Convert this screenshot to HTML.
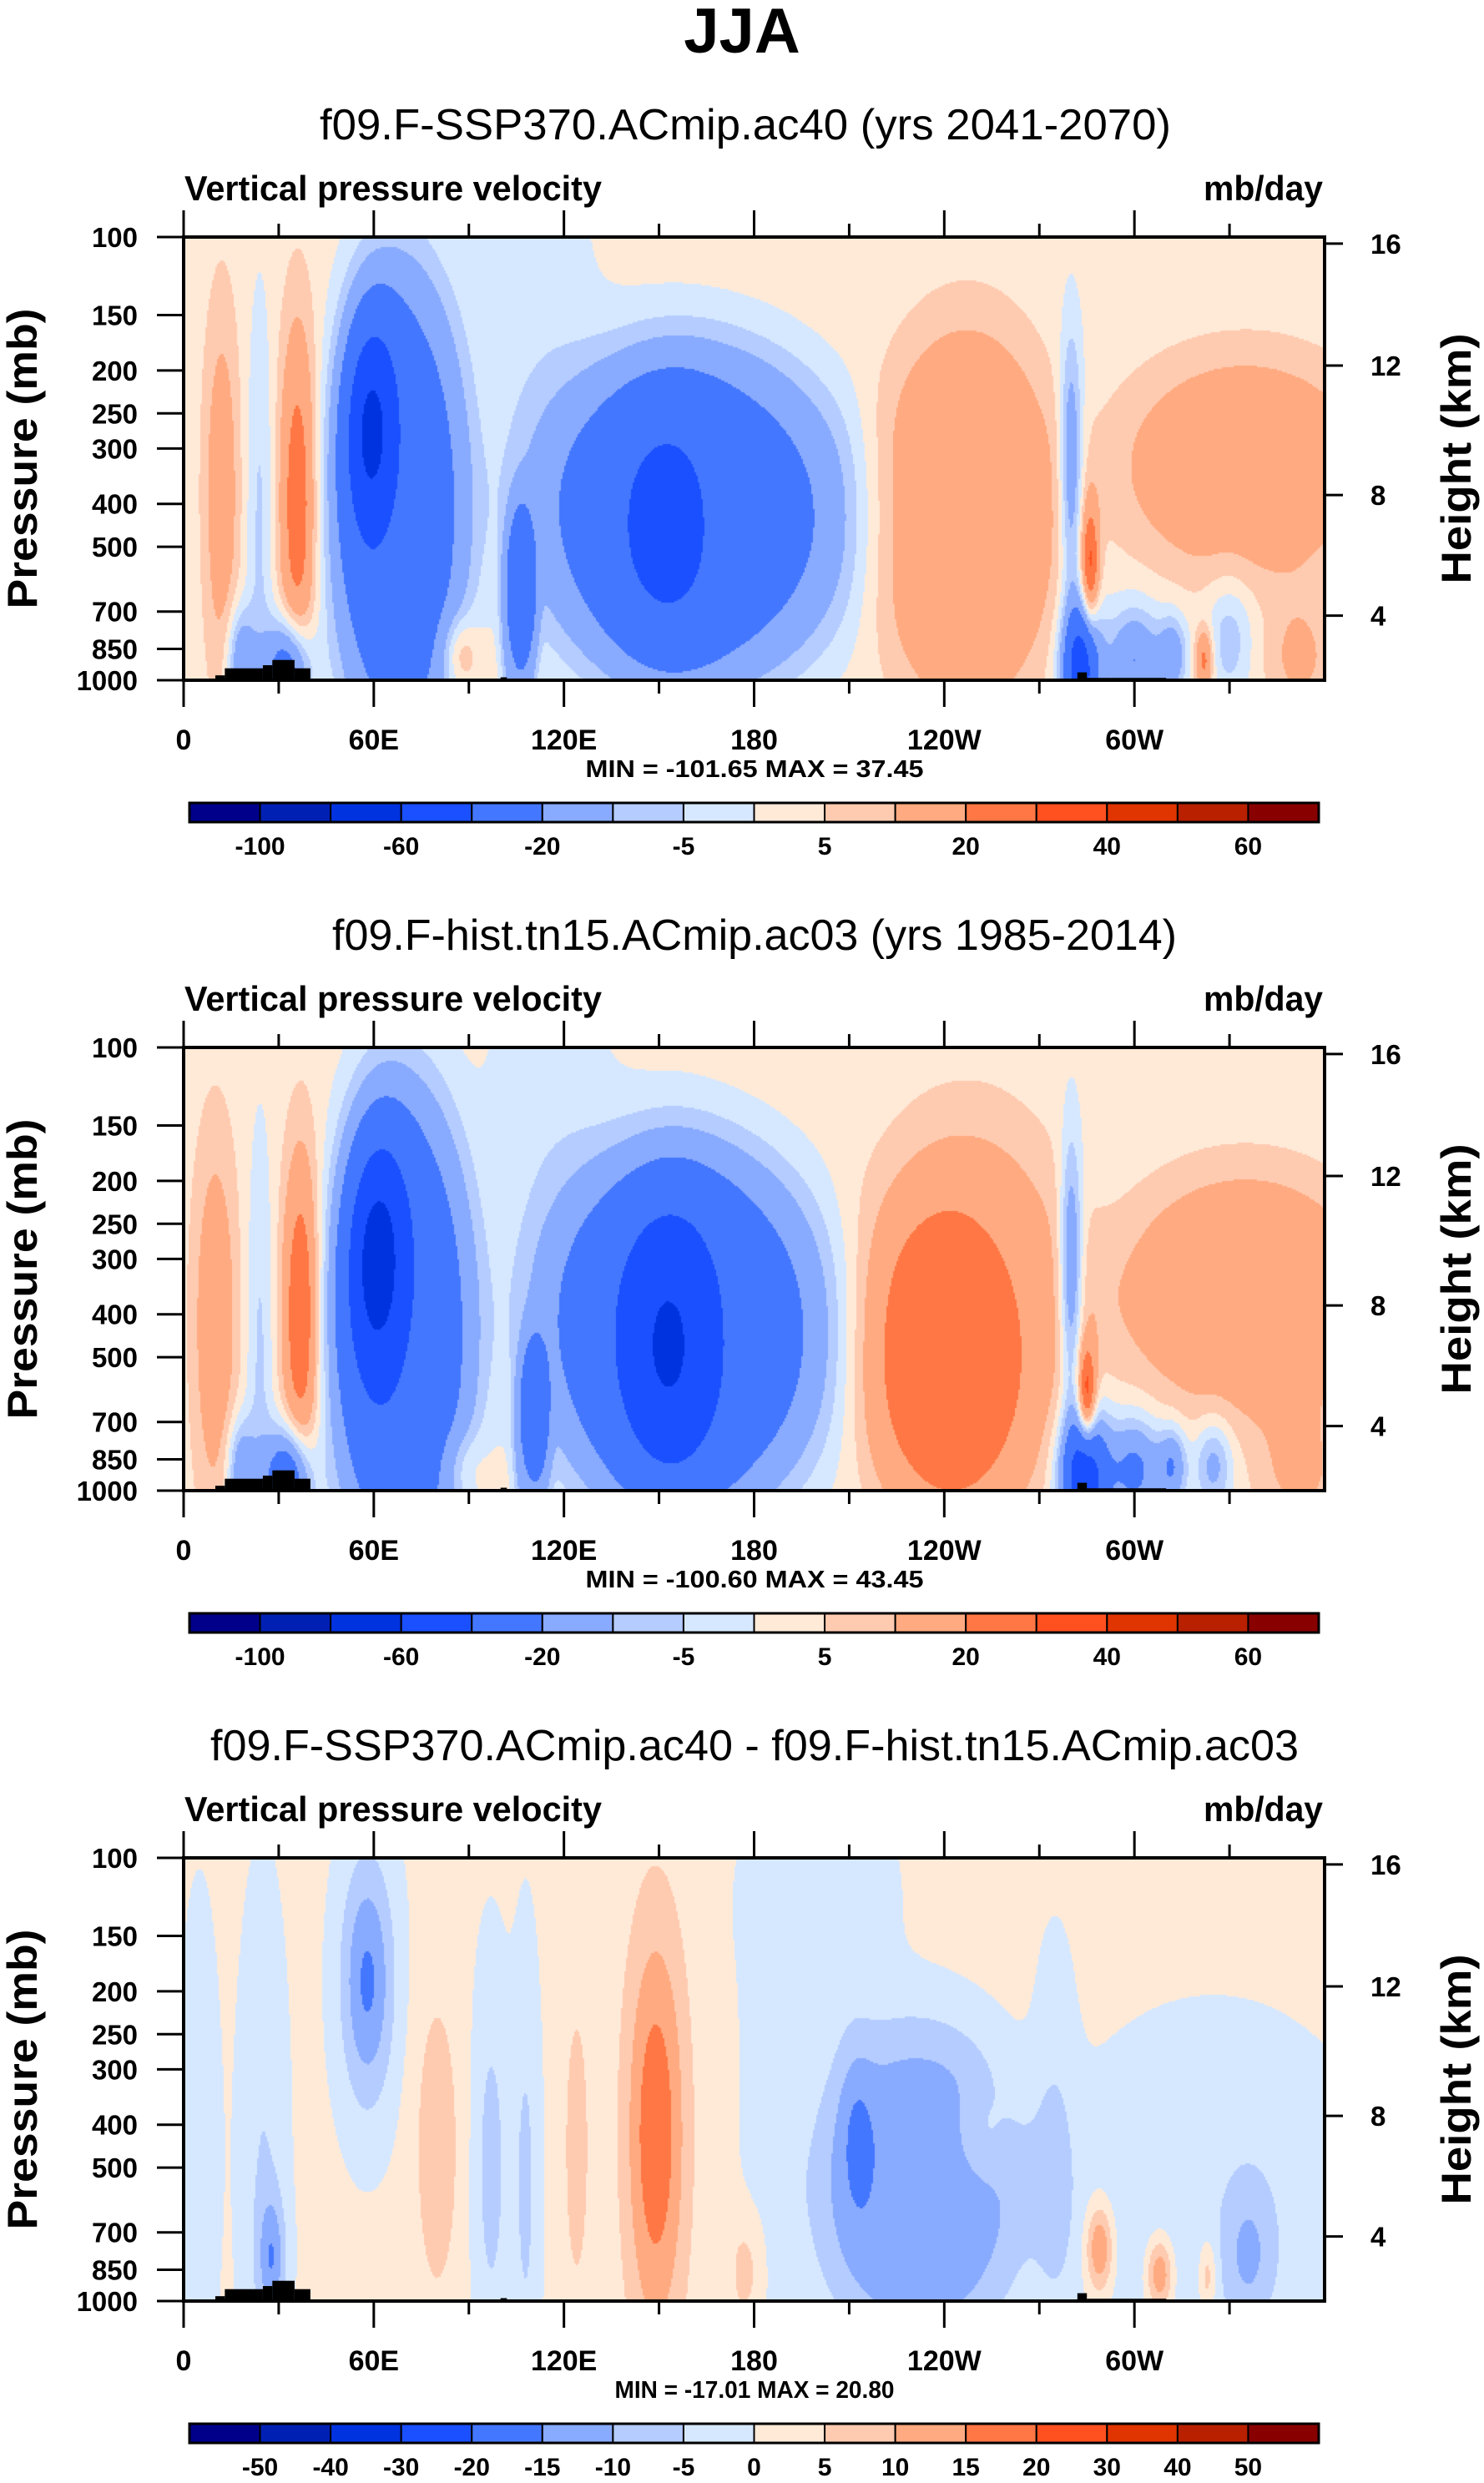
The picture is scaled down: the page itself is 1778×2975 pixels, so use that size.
<!DOCTYPE html>
<html><head><meta charset="utf-8">
<style>
html,body{margin:0;padding:0;background:#fff;}
#wrap{position:relative;width:1778px;height:2975px;overflow:hidden;background:#fff;}
canvas{position:absolute;}
svg{position:absolute;left:0;top:0;}
text{font-family:"Liberation Sans",Arial,sans-serif;fill:#000;}
</style></head>
<body>
<div id="wrap">
<canvas id="c0"></canvas>
<canvas id="c1"></canvas>
<canvas id="c2"></canvas>
<svg id="svg" width="1778" height="2975"></svg>
</div>
<script>
// ---- data ----
const lonTicks = [0,60,120,180,240,300];
const lonTickLabels = ["0","60E","120E","180","120W","60W"];
const pressureTicks = [100,150,200,250,300,400,500,700,850,1000];
const heightTicks = [16,12,8,4];
const heightTickPressure = [103.5,195,382,715];
const levels1 = [-100,-80,-60,-40,-20,-10,-5,0,5,10,20,30,40,50,60];
const levels1Labels = ["-100","-60","-20","-5","5","20","40","60"];
const levels3 = [-50,-40,-30,-20,-15,-10,-5,0,5,10,15,20,30,40,50];
const palette = ["#00008a","#0020b4","#0033e0","#1a50ff","#4477ff","#88aaff","#b4ccff","#d6e8ff","#ffead8","#ffcbb0","#ffaa80","#ff7744","#ff5020","#e03500","#b82000","#880000"];
const titles = ["f09.F-SSP370.ACmip.ac40 (yrs 2041-2070)","f09.F-hist.tn15.ACmip.ac03 (yrs 1985-2014)","f09.F-SSP370.ACmip.ac40 - f09.F-hist.tn15.ACmip.ac03"];
const minmax = ["MIN = -101.65  MAX =  37.45","MIN = -100.60  MAX =  43.45","MIN = -17.01  MAX = 20.80"];
// feature blobs: [lon, pressure(mb), lonWidth(deg), logPWidth(decades), amplitude(mb/day), shape(1=gauss,2=flat)]
const baseFuture = 2;
const blobsFuture = [
 [68,420,19,0.5,-30,2],[59,270,6,0.18,-40,1],
 [160,430,44,0.34,-30,2],[152,450,12,0.2,-20,1],
 [106,700,5,0.22,-22,2],[110,150,15,0.3,-5,1],
 [247,430,27,0.4,15,2],[335,330,38,0.24,12,2],
 [36,400,4,0.28,25,1],[12,380,4,0.3,14,1],[24,450,3,0.35,-8,1],
 [280,330,2.5,0.2,-22,1],[283,930,4,0.1,-55,1],[286,560,2,0.1,30,1],
 [300,900,6,0.08,-22,1],[312,880,3,0.06,-18,1],[322,900,2,0.05,22,1],[330,800,5,0.1,-10,1],
 [352,880,8,0.1,10,1],[33,950,5,0.08,-35,1],[18,900,3,0.08,-20,1],[87,870,4,0.06,14,1]
];
const baseHist = 2;
const blobsHist = [
 [69,450,20,0.5,-32,2],[61,300,7,0.2,-42,1],
 [158,440,40,0.37,-33,2],[153,470,11,0.22,-32,1],
 [110,750,5,0.2,-20,2],[115,150,15,0.3,-5,1],
 [240,520,22,0.32,12,2],[247,420,32,0.42,13,2],[335,360,38,0.26,13,2],
 [37,400,4,0.25,28,1],[10,420,5,0.3,15,1],[24,500,3,0.35,-8,1],
 [280,320,2.5,0.2,-25,1],[284,930,5,0.1,-60,1],[285,620,2,0.08,35,1],
 [300,900,6,0.08,-25,1],[312,880,3,0.06,-20,1],[325,870,4,0.07,-15,1],
 [352,900,10,0.1,10,1],[33,950,5,0.08,-40,1],[18,900,3,0.08,-20,1],[88,880,5,0.06,8,1]
];
const baseDiff = 1;
const blobsDiff = [
 [58,190,6,0.2,-17,1],[149,420,7,0.35,18,1],[212,400,4,0.15,-5,1],[232,560,30,0.33,-15,2],[252,420,6,0.08,6,1],
 [5,450,4,0.35,-5,1],[25,500,5,0.4,-6,1],[97,500,4,0.3,-8,1],[108,550,3,0.35,-7,1],
 [80,450,5,0.25,8,1],[124,450,3,0.25,7,1],[178,850,4,0.1,7,1],[325,600,40,0.35,-5,2],
 [200,130,15,0.2,-5,1],[185,500,8,0.5,-3,2],[289,760,3,0.07,17,1],[308,870,3,0.06,17,1],[323,880,2,0.06,10,1],
 [336,780,5,0.1,-8,1],[28,800,3,0.1,-12,1],[275,500,5,0.3,-6,1]
];
// surface topography: [lonStart, lonEnd, surfacePressure]
const topoLon0 = [10,13,25,28,35,100,282,285];
const topoLon1 = [13,25,28,35,40,102,285,310];
const topoPs   = [975,940,925,900,940,985,960,988];

// ---- layout ----
const PX0=220, PX1=1587, PH=531;
const panelTops=[284,1255,2226];
const NS="http://www.w3.org/2000/svg";
const svg=document.getElementById('svg');
function xOf(lon){return PX0+(lon/360)*(PX1-PX0);}
function yOf(p,top){return top+Math.log10(p/100)*PH;}
function mk(tag,attrs,parent){const e=document.createElementNS(NS,tag);for(const k in attrs)e.setAttribute(k,attrs[k]);(parent||svg).appendChild(e);return e;}
function txt(s,x,y,size,opts,parent){opts=opts||{};const e=mk('text',{x:x,y:y,'font-size':size,'font-weight':opts.bold?'bold':'normal','text-anchor':opts.anchor||'start'},parent);if(opts.len){e.setAttribute('textLength',opts.len);e.setAttribute('lengthAdjust','spacingAndGlyphs');}if(opts.transform)e.setAttribute('transform',opts.transform);e.textContent=s;return e;}

function field(blobs,base,lon,u){let v=base;for(const b of blobs){const dx=(lon-b[0])/b[2];const du=(u-Math.log10(b[1]/100))/b[3];let d=dx*dx+du*du;if(b[5]===2)d=d*d;if(d<40)v+=b[4]*Math.exp(-0.5*d);}return v;}
function levelIdx(v,lv){let i=0;while(i<lv.length&&v>=lv[i])i++;return i;}

function drawPanel(k,blobs,base,lv){
 const top=panelTops[k];
 const cv=document.getElementById('c'+k);
 const W=PX1-PX0,H=PH;
 cv.width=W;cv.height=H;cv.style.left=PX0+'px';cv.style.top=top+'px';
 const ctx=cv.getContext('2d');
 const step=2;
 for(let y=0;y<H;y+=step){const u=(y+step/2)/H;
  for(let x=0;x<W;x+=step){const lon=(x+step/2)/W*360;
   ctx.fillStyle=palette[levelIdx(field(blobs,base,lon,u),lv)];ctx.fillRect(x,y,step,step);}}
 const g=mk('g',{});
 
 
 for(let i=0;i<topoPs.length;i++){
  const r=mk('rect',{x:xOf(topoLon0[i]),y:yOf(topoPs[i],top),width:xOf(topoLon1[i])-xOf(topoLon0[i]),height:top+PH-yOf(topoPs[i],top),fill:'#000'},g);
  
  
 }
 const fr=mk('rect',{x:PX0,y:top,width:PX1-PX0,height:PH,fill:'none',stroke:'#000','stroke-width':4},g);
 
 
 for(let lon=0;lon<=330;lon+=30){const major=lon%60===0;const L=major?32:16;const x=xOf(lon);
  mk('line',{x1:x,x2:x,y1:top,y2:top-L,stroke:'#000','stroke-width':3},g);
  mk('line',{x1:x,x2:x,y1:top+PH,y2:top+PH+L,stroke:'#000','stroke-width':3},g);}
 lonTicks.forEach((lon,i)=>{const t=txt(lonTickLabels[i],xOf(lon),top+PH+83,34,{bold:true,anchor:'middle'},g);
  
  });
 pressureTicks.forEach(p=>{const y=yOf(p,top);mk('line',{x1:PX0,x2:PX0-32,y1:y,y2:y,stroke:'#000','stroke-width':3},g);
  const t=txt(String(p),165,y+12,33,{bold:true,anchor:'end'},g);
  
  });
 heightTicks.forEach((h,i)=>{const y=yOf(heightTickPressure[i],top);mk('line',{x1:PX1,x2:PX1+22,y1:y,y2:y,stroke:'#000','stroke-width':3},g);
  const t=txt(String(h),1642,y+12,33,{bold:true},g);
  
  });
 const tl=[[1020,383],[1012,398],[1304,252]][k];
 const t1=txt(titles[k],tl[1],top-117,52,{len:tl[0]},g);
 
 
 const t2=txt('Vertical pressure velocity',221,top-44,42,{bold:true,len:500},g);
 
 
 const t3=txt('mb/day',1585,top-44,42,{bold:true,anchor:'end',len:143},g);
 
 
 const cy=top+PH/2;
 const t4=txt('Pressure (mb)',44,cy,50,{bold:true,anchor:'middle',len:360,transform:'rotate(-90 44 '+cy+')'},g);
 
 
 const t5=txt('Height (km)',1762,cy,50,{bold:true,anchor:'middle',len:300,transform:'rotate(-90 1762 '+cy+')'},g);
 
 
 const t6=txt(minmax[k],904,top+PH+116,29,{bold:true,anchor:'middle',len:[405,405,335][k]},g);
 
 
 const cb=mk('g',{},g);
 
 
 const bx0=227,bx1=1580,by=top+678,bh=23,bw=(bx1-bx0)/16;
 palette.forEach((c,i)=>{const r=mk('rect',{x:bx0+i*bw,y:by,width:bw,height:bh,fill:c,stroke:'#000','stroke-width':2},cb);
  
  });
 mk('rect',{x:bx0,y:by,width:bx1-bx0,height:bh,fill:'none',stroke:'#000','stroke-width':3},cb);
 if(k<2){levels1Labels.forEach((s,j)=>{const t=txt(s,bx0+bw*(1+2*j),top+740,30,{bold:true,anchor:'middle'},cb);
   
   });}
 else{lv.forEach((v,j)=>{const t=txt(String(v),bx0+bw*(1+j),top+740,30,{bold:true,anchor:'middle'},cb);
   
   });}
}
const jja=txt('JJA',889,63,76,{bold:true,anchor:'middle'});


drawPanel(0,blobsFuture,baseFuture,levels1);
drawPanel(1,blobsHist,baseHist,levels1);
drawPanel(2,blobsDiff,baseDiff,levels3);
</script>
</body></html>
